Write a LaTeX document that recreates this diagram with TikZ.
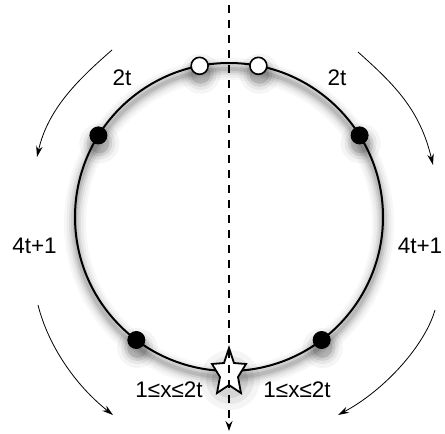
\documentclass[tikz,border=0pt]{standalone}
\usepackage{fontspec}
\setmainfont{Liberation Sans}
\usetikzlibrary{arrows.meta,calc}
\begin{document}
\begin{tikzpicture}[x=1pt,y=-1pt,
  lbl/.style={font=\fontsize{22.5}{27}\selectfont, anchor=base, inner sep=0pt},
  ring/.style={line width=2pt},
  fdot/.style={circle, fill=black, minimum size=18pt, inner sep=0pt},
  odot/.style={circle, draw=black, fill=white, line width=1.6pt, minimum size=17pt, inner sep=0pt},
  flow/.style={line width=0.8pt, -{Stealth[length=11pt,width=6.5pt]}},
  axisline/.style={line width=1.2pt, dash pattern=on 8pt off 7pt, -{Stealth[length=10pt,width=7pt]}},
  starline/.style={line width=1.8pt, fill=white, line join=miter},
]
\useasboundingbox (0,0) rectangle (445,434);
\coordinate (c) at (229,217);
% positions on ring
\coordinate (pUL) at ($(c)+(212:154)$);
\coordinate (pUR) at ($(c)+(328:154)$);
\coordinate (pLL) at ($(c)+(127:154)$);
\coordinate (pLR) at ($(c)+(53:154)$);
\coordinate (pOL) at ($(c)+(259:154)$);
\coordinate (pOR) at ($(c)+(281:154)$);
% shadow of ring
\foreach \w/\o in {22/0.03, 17/0.04, 12/0.06, 8/0.08, 4/0.1}{
  \draw[line width=\w pt, black, opacity=\o] ($(c)+(0,6)$) circle (154);
}
% shadows of dots and star
\foreach \p in {pUL,pUR,pLL,pLR,pOL,pOR}{
  \foreach \r/\o in {20/0.04, 16/0.06, 13/0.09, 10/0.12}{
    \fill[black, opacity=\o] ($(\p)+(1,8)$) circle (\r);
  }
}
\foreach \r/\o in {30/0.04, 24/0.06, 18/0.08}{
  \fill[black, opacity=\o] (230,380) circle (\r);
}
% ring
\draw[ring] (c) circle (154);
% star
\draw[starline] (229,348) -- (234,363) -- (246,364) -- (238,377) -- (241,393)
  -- (229,385) -- (217,393) -- (220,377) -- (212,364) -- (224,363) -- cycle;
% dashed axis
\coordinate (axtop) at (229,5);
\coordinate (axbot) at (229,431);
\draw[axisline] (axtop) -- (axbot);
% dots
\node[fdot] (dUL) at (pUL) {};
\node[fdot] (dUR) at (pUR) {};
\node[fdot] (dLL) at (pLL) {};
\node[fdot] (dLR) at (pLR) {};
\node[odot] (oL) at (pOL) {};
\node[odot] (oR) at (pOR) {};
% flow arrows
\coordinate (a1s) at (112,50);  \coordinate (a1e) at (37,157);
\coordinate (a2s) at (358,52);  \coordinate (a2e) at (433,165);
\coordinate (a3s) at (38,305);  \coordinate (a3e) at (113,415);
\coordinate (a4s) at (435,310); \coordinate (a4e) at (338,415);
\draw[flow] (a1s) .. controls (80,78) and (48,108) .. (a1e);
\draw[flow] (a2s) .. controls (395,85) and (420,110) .. (a2e);
\draw[flow] (a3s) .. controls (48,345) and (75,385) .. (a3e);
\draw[flow] (a4s) .. controls (425,345) and (385,390) .. (a4e);
% labels
\node[lbl] (l1) at (122,85) {2t};
\node[lbl] (l2) at (337,85) {2t};
\node[lbl] (l3) at (34.5,253) {4t+1};
\node[lbl] (l4) at (420,253) {4t+1};
\node[lbl] (l5) at (169,397) {1≤x≤2t};
\node[lbl] (l6) at (297,397) {1≤x≤2t};
\end{tikzpicture}
\end{document}
